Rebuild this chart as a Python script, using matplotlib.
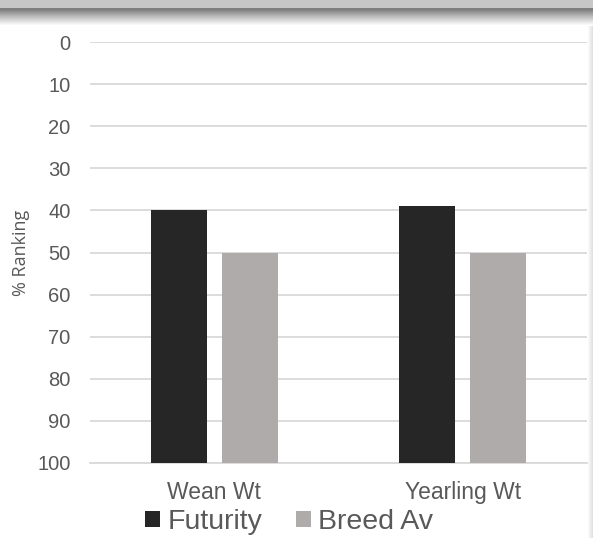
import matplotlib.pyplot as plt
import numpy as np

categories = ["Wean Wt", "Yearling Wt"]
futurity = [40, 39]
breed_av = [50, 50]
y_ticks = [0, 10, 20, 30, 40, 50, 60, 70, 80, 90, 100]

W, H = 593, 538
fig = plt.figure(figsize=(W / 100, H / 100), dpi=100)
plt.rcParams["font.family"] = ["Liberation Sans", "DejaVu Sans"]
text_col = "#595959"

# header band with shadow
hdr = fig.add_axes([0, 1 - 26 / H, 1, 26 / H])
rows = np.ones(26)
rows[:8] = 0.78
rows[8] = 0.5
rows[9:] = np.linspace(0.36, 1.0, 17) ** 0.7
hdr.imshow(np.tile(rows[:, None], (1, 10)), cmap="gray", vmin=0, vmax=1,
           aspect="auto", extent=[0, 1, 0, 1])
hdr.axis("off")

# right edge shadow
edge = fig.add_axes([1 - 6 / W, 0, 6 / W, 1 - 26 / H])
cols = np.linspace(1.0, 0.88, 6)
edge.imshow(np.tile(cols[None, :], (10, 1)), cmap="gray", vmin=0, vmax=1,
            aspect="auto", extent=[0, 1, 0, 1])
edge.axis("off")

ax = fig.add_axes([90 / W, 1 - 463 / H, 497 / W, 421 / H])
x = np.arange(len(categories))
bw = 0.225
off = 0.143
ax.bar(x - off, np.array(futurity) - 100, bottom=100, width=bw,
       color="#262626", label="Futurity", zorder=3)
ax.bar(x + off, np.array(breed_av) - 100, bottom=100, width=bw,
       color="#afabab", label="Breed Av", zorder=3)

ax.set_ylim(100, 0)
ax.set_xlim(-0.5, 1.5)
ax.set_yticks(y_ticks)
ax.set_xticks(x)
ax.set_xticklabels(categories)
ax.grid(axis="y", color="#d9d9d9", linewidth=1.3, zorder=0)
for s in ["top", "right", "left"]:
    ax.spines[s].set_visible(False)
ax.spines["bottom"].set_color("#d9d9d9")
ax.spines["bottom"].set_linewidth(1.3)
ax.tick_params(axis="both", length=0, labelcolor=text_col)
ax.tick_params(axis="y", pad=14, labelsize=14.5)
ax.tick_params(axis="x", pad=13, labelsize=16.5)
ax.set_ylabel("% Ranking", fontsize=13, color=text_col, family="Open Sans",
              labelpad=5)

fig.legend(loc="center left", bbox_to_anchor=(145 / W, 1 - 522 / H), ncol=2,
           frameon=False, fontsize=20.5, handlelength=0.53, handleheight=0.53,
           handletextpad=0.25, columnspacing=1.2, borderpad=0,
           borderaxespad=0, labelcolor=text_col)

fig.savefig("out.png", dpi=100)
